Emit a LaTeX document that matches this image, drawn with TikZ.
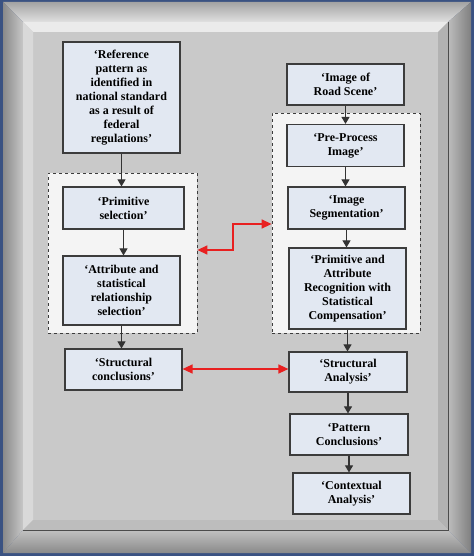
\documentclass[tikz,border=0pt]{standalone}
\usepackage{fontspec}
\setmainfont{Liberation Serif}
\usetikzlibrary{arrows.meta, positioning}

\definecolor{outerblue}{RGB}{58,82,130}
\definecolor{panelgray}{RGB}{201,201,201}
\definecolor{boxfill}{RGB}{226,232,242}
\definecolor{groupfill}{RGB}{244,244,244}
\definecolor{edgegray}{RGB}{60,60,60}
\definecolor{linkred}{RGB}{232,32,32}

\begin{document}
\begin{tikzpicture}[x=1pt, y=-1pt,
    stage/.style={draw=edgegray, line width=1.2pt, fill=boxfill, align=center, inner sep=2pt,
        font=\fontsize{12}{14}\selectfont\bfseries, minimum width=117},
    group/.style={draw=edgegray, dashed, line width=0.8pt, fill=groupfill},
    flow/.style={-{Triangle[width=8pt,length=7pt]}, line width=1.1pt, black!80},
    link/.style={{Triangle[width=9pt,length=10pt]}-{Triangle[width=9pt,length=10pt]}, line width=1.4pt, linkred}]
    \useasboundingbox (0,0) rectangle (474,556);

    % Frame
    \fill[outerblue] (0,0) rectangle (474,556);
    \shade[top color=black!36, bottom color=black!12] (3,2) -- (471,2) -- (448,22) -- (23,22) -- cycle;
    \shade[left color=black!46, right color=black!22] (3,2) -- (23,22) -- (23,530) -- (3,553) -- cycle;
    \shade[left color=black!26, right color=black!50] (471,2) -- (471,553) -- (448,530) -- (448,22) -- cycle;
    \shade[top color=black!24, bottom color=black!46] (3,553) -- (471,553) -- (448,530) -- (23,530) -- cycle;
    \fill[panelgray] (23,22) rectangle (448,530);
    \fill[black!8] (23,22) -- (448,22) -- (438,32) -- (33,32) -- cycle;
    \fill[black!15] (23,22) -- (33,32) -- (33,520) -- (23,530) -- cycle;
    \fill[black!30] (448,22) -- (448,530) -- (438,520) -- (438,32) -- cycle;
    \fill[black!26] (23,530) -- (448,530) -- (438,520) -- (33,520) -- cycle;
    \draw[black!70, line width=1pt] (448,22) -- (448,530) -- (23,530);

    % Groups
    \node[group, minimum width=149, minimum height=160] (lgrp) at (122.5,253) {};
    \node[group, minimum width=148, minimum height=220] (rgrp) at (346,223) {};

    % Left column
    \node[stage, minimum height=111] (ref) at (121.5,97.5)
        {‘Reference\\pattern as\\identified in\\national standard\\as a result of\\federal\\regulations’};
    \node[stage, minimum width=121, minimum height=42] (prim) at (123.5,208) {‘Primitive\\selection’};
    \node[stage, minimum height=69] (attr) at (121.5,290.5)
        {‘Attribute and\\statistical\\relationship\\selection’};
    \node[stage, minimum height=41] (sconc) at (123.5,369.5) {‘Structural\\conclusions’};

    % Right column
    \node[stage, minimum height=41] (scene) at (345.5,84.5) {‘Image of\\Road Scene’};
    \node[stage, minimum height=42] (prep) at (345.5,145.5) {‘Pre-Process\\Image’};
    \node[stage, minimum height=42] (seg) at (346.5,208) {‘Image\\Segmentation’};
    \node[stage, minimum height=81] (recog) at (347.5,288.5)
        {‘Primitive and\\Attribute\\Recognition with\\Statistical\\Compensation’};
    \node[stage, minimum width=118, minimum height=40] (sana) at (348,372) {‘Structural\\Analysis’};
    \node[stage, minimum width=118, minimum height=41] (pconc) at (349,434.5) {‘Pattern\\Conclusions’};
    \node[stage, minimum height=41] (ctx) at (351.5,493.5) {‘Contextual\\Analysis’};

    % Flow
    \draw[flow] (ref.south) -- (ref.south |- prim.north);
    \draw[flow] (prim.south) -- (prim.south |- attr.north);
    \draw[flow] (attr.south) -- (attr.south |- sconc.north);
    \draw[flow] (scene.south) -- (scene.south |- prep.north);
    \draw[flow] (prep.south) -- (prep.south |- seg.north);
    \draw[flow] (seg.south) -- (seg.south |- recog.north);
    \draw[flow] (recog.south) -- (recog.south |- sana.north);
    \draw[flow] (sana.south) -- (sana.south |- pconc.north);
    \draw[flow] (pconc.south) -- (pconc.south |- ctx.north);

    % Links
    \draw[link] (lgrp.east |- 0,250) -- (233,250) -- (233,224) -- (rgrp.west |- 0,224);
    \draw[link] (sconc.east |- 0,369) -- (sana.west |- 0,369);
\end{tikzpicture}
\end{document}
